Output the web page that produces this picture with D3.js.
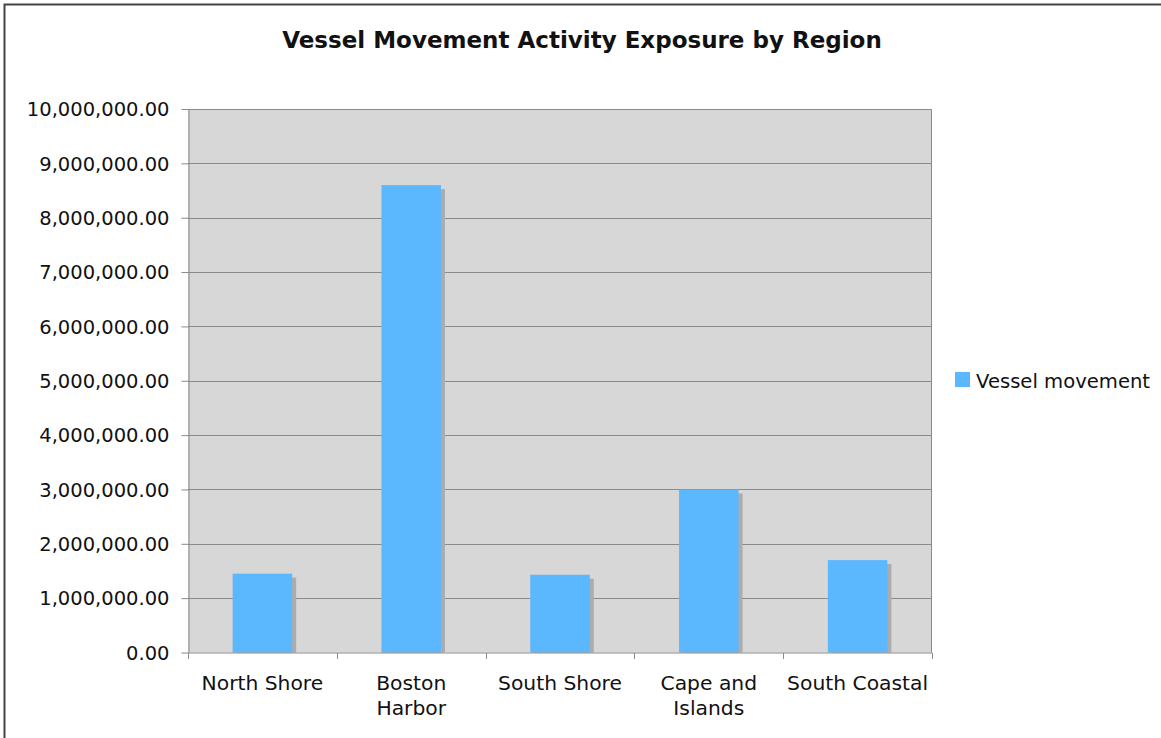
<!DOCTYPE html>
<meta charset="utf-8">
<style>
body { margin: 0; background: #fff; }
text { font-family: "DejaVu Sans", Verdana, sans-serif; fill: #111; }
.grid line { stroke: #8a8a8a; stroke-width: 1px; }
.axis path, .axis line { stroke: #8a8a8a; }
</style>
<svg width="1161" height="738"></svg>
<script src="https://cdn.jsdelivr.net/npm/d3@7"></script>
<script>

var categories = ["North Shore", "Boston Harbor", "South Shore", "Cape and Islands", "South Coastal"];
var labelLines = [["North Shore"], ["Boston", "Harbor"], ["South Shore"], ["Cape and", "Islands"], ["South Coastal"]];
var values = [1450000, 8600000, 1430000, 3000000, 1700000];
var yTicks = [0, 1e6, 2e6, 3e6, 4e6, 5e6, 6e6, 7e6, 8e6, 9e6, 1e7];
var seriesName = "Vessel movement";

var svg = d3.select("svg"),
    plotL = 188, plotR = 932, plotT = 109, plotB = 652.5;

// frame, cut off at the right and bottom like the original
svg.append("rect")
    .attr("x", 4.5).attr("y", 4.5)
    .attr("width", 1200).attr("height", 800)
    .attr("fill", "none").attr("stroke", "#444").attr("stroke-width", 2);

svg.append("text")
    .attr("x", 582).attr("y", 48)
    .attr("text-anchor", "middle")
    .style("font-weight", "bold").style("font-size", "23px")
    .text("Vessel Movement Activity Exposure by Region");

var x = d3.scaleBand().domain(categories).range([plotL, plotR]).paddingInner(0.6).paddingOuter(0.3);
var y = d3.scaleLinear().domain([0, 1e7]).range([plotB, plotT]);

svg.append("rect")
    .attr("x", plotL).attr("y", plotT)
    .attr("width", plotR - plotL).attr("height", plotB - plotT)
    .attr("fill", "#d7d7d7");

svg.append("g").attr("class", "grid")
  .selectAll("line")
  .data(yTicks.slice(1, -1))
  .enter().append("line")
    .attr("x1", plotL).attr("x2", plotR)
    .attr("y1", function(d) { return Math.round(y(d)) + 0.5; })
    .attr("y2", function(d) { return Math.round(y(d)) + 0.5; });

// shadows
svg.append("g")
  .selectAll("rect")
  .data(values)
  .enter().append("rect")
    .attr("x", function(d, i) { return x(categories[i]) + 4; })
    .attr("y", function(d) { return y(d) + 4; })
    .attr("width", x.bandwidth())
    .attr("height", function(d) { return plotB - y(d) - 4; })
    .attr("fill", "#acacac");

svg.append("g")
  .selectAll("rect")
  .data(values)
  .enter().append("rect")
    .attr("x", function(d, i) { return x(categories[i]); })
    .attr("y", function(d) { return y(d); })
    .attr("width", x.bandwidth())
    .attr("height", function(d) { return plotB - y(d); })
    .attr("fill", "#5cb8fe");

// plot border top/right
svg.append("path")
    .attr("d", "M" + plotL + "," + (plotT + 0.5) + "H" + (plotR - 0.5) + "V" + plotB)
    .attr("fill", "none").attr("stroke", "#8a8a8a");

var fmt = d3.format(",.2f");
var yAxis = svg.append("g").attr("class", "axis")
    .attr("transform", "translate(" + (plotL + 0.5) + ",0)")
    .call(d3.axisLeft(y).tickValues(yTicks).tickFormat(fmt).tickSize(7).tickSizeOuter(0).tickPadding(12));
yAxis.selectAll("text").style("font-size", "19.5px").attr("fill", "#111").attr("dy", "0.35em");

var xAxis = svg.append("g").attr("class", "axis")
    .attr("transform", "translate(0," + (plotB + 0.5) + ")");
xAxis.append("line").attr("x1", plotL).attr("x2", plotR + 0.5).attr("stroke", "#555");
var bounds = d3.range(categories.length + 1).map(function(i) { return plotL + i * x.step(); });
xAxis.selectAll(".tk").data(bounds).enter().append("line")
    .attr("class", "tk")
    .attr("x1", function(d) { return Math.round(d) + 0.5; })
    .attr("x2", function(d) { return Math.round(d) + 0.5; })
    .attr("y1", 0).attr("y2", 6);

svg.append("g")
  .selectAll("text")
  .data(labelLines)
  .enter().append("text")
    .attr("text-anchor", "middle")
    .style("font-size", "20.3px")
    .attr("transform", function(d, i) { return "translate(" + (x(categories[i]) + x.bandwidth() / 2) + ",690)"; })
  .selectAll("tspan")
  .data(function(d) { return d; })
  .enter().append("tspan")
    .attr("x", 0)
    .attr("y", function(d, j) { return j * 25; })
    .text(function(d) { return d; });

var legend = svg.append("g").attr("transform", "translate(955,372)");
legend.append("rect").attr("width", 15).attr("height", 15).attr("fill", "#5cb8fe");
legend.append("text").attr("x", 21).attr("y", 15.5).style("font-size", "19.6px").text(seriesName);

</script>
